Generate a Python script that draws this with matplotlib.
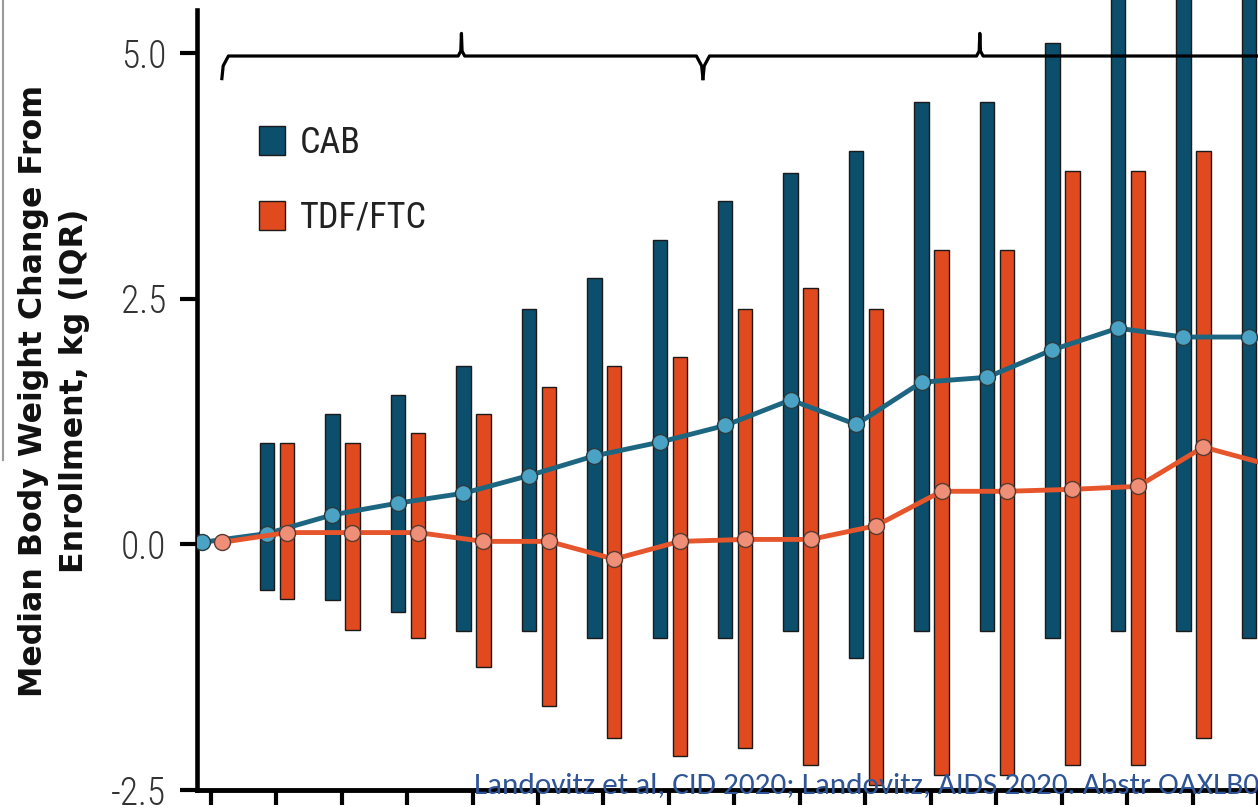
import numpy as np
import matplotlib
matplotlib.use("Agg")
import matplotlib.pyplot as plt
from matplotlib import font_manager
from matplotlib.patches import Patch
from matplotlib.lines import Line2D

# visit index (week 0 .. ) ; last visit partly cut off at right edge
visits = np.arange(17)

# CAB arm: median and IQR (kg)
cab_med = [0.02, 0.11, 0.30, 0.42, 0.52, 0.70, 0.90, 1.04, 1.21, 1.47, 1.22,
           1.65, 1.70, 1.98, 2.20, 2.11, 2.11]
cab_q1 = [np.nan, -0.46, -0.57, -0.69, -0.88, -0.88, -0.95, -0.95, -0.95, -0.88,
          -1.16, -0.88, -0.88, -0.95, -0.88, -0.88, -0.95]
cab_q3 = [np.nan, 1.03, 1.33, 1.52, 1.82, 2.40, 2.71, 3.10, 3.49, 3.78, 4.00,
          4.50, 4.50, 5.10, 5.90, 5.90, 5.90]

# TDF/FTC arm
tdf_med = [0.02, 0.12, 0.12, 0.12, 0.03, 0.03, -0.15, 0.03, 0.05, 0.05, 0.19,
           0.54, 0.54, 0.56, 0.59, 0.99, 0.81]
tdf_q1 = [np.nan, -0.56, -0.87, -0.95, -1.25, -1.65, -1.97, -2.15, -2.07, -2.25,
          -2.45, -2.35, -2.35, -2.25, -2.25, -1.97, -1.97]
tdf_q3 = [np.nan, 1.03, 1.03, 1.13, 1.33, 1.60, 1.82, 1.91, 2.40, 2.61, 2.40,
          3.00, 3.00, 3.80, 3.80, 4.00, 4.68]

labels = ["CAB", "TDF/FTC"]
yticks = [-2.5, 0.0, 2.5, 5.0]
ytick_labels = ["-2.5", "0.0", "2.5", "5.0"]
ylabel = "Median Body Weight Change From\nEnrollment, kg (IQR)"
source = "Landovitz et al, CID 2020; Landovitz, AIDS 2020. Abstr OAXLB0102"

# study step brackets along the top (start, tip, end)
brace_starts = [0.17, 7.52]
brace_tips = [3.83, 11.75]
brace_ends = [7.52, 16.5]

names = {f.name for f in font_manager.fontManager.ttflist}
narrow = "DejaVu Sans"
for cand in ["Liberation Sans Narrow", "Roboto Condensed", "Open Sans Condensed", "Roboto"]:
    if cand in names:
        narrow = cand
        break
srcfont = "Carlito" if "Carlito" in names else "Lato"

cab_bar = "#0b4f6c"
tdf_bar = "#e04a1e"
cab_line = "#1d6682"
tdf_line = "#e6552b"
cab_pt = "#4aa3c4"
tdf_pt = "#f08f78"

W, H = 1258, 811
fig = plt.figure(figsize=(W / 100, H / 100), dpi=100)
ax = fig.add_axes([197 / W, 21 / H, 1 - 197 / W, 1 - 21 / H])
ax.set_xlim(-0.21, 15.84)
ax.set_ylim(-2.5, 5.54)

x = visits.astype(float)
cab_x = x - 0.14
tdf_x = x + 0.165
cab_q1a, cab_q3a = np.array(cab_q1), np.array(cab_q3)
tdf_q1a, tdf_q3a = np.array(tdf_q1), np.array(tdf_q3)

ax.bar(cab_x, cab_q3a - cab_q1a, bottom=cab_q1a, width=0.22, color=cab_bar,
       edgecolor="#1a1a1a", linewidth=1, zorder=2)
ax.bar(tdf_x, tdf_q3a - tdf_q1a, bottom=tdf_q1a, width=0.22, color=tdf_bar,
       edgecolor="#1a1a1a", linewidth=1, zorder=2)

ax.plot(cab_x, cab_med, color=cab_line, lw=3.5, zorder=3, marker="o", ms=11.5,
        mfc=cab_pt, mec="#2a3a40", mew=1)
ax.plot(tdf_x, tdf_med, color=tdf_line, lw=3.5, zorder=3, marker="o", ms=11.5,
        mfc=tdf_pt, mec="#5a3a30", mew=1)

# brackets
yb, yd, yu = 4.97, 4.74, 5.20
for s, t, e in zip(brace_starts, brace_tips, brace_ends):
    bx = [s, s + 0.02, s + 0.1, t - 0.05, t - 0.01, t, t + 0.01, t + 0.05, e - 0.1, e - 0.02, e]
    by = [yd, yb - 0.1, yb, yb, yb + 0.05, yu, yb + 0.05, yb, yb, yb - 0.1, yd]
    ax.plot(bx, by, color="black", lw=2.3, zorder=5, clip_on=False,
            solid_joinstyle="round")

for side in ["top", "right"]:
    ax.spines[side].set_visible(False)
ax.spines["left"].set_bounds(-2.5, 5.44)
ax.spines["left"].set_linewidth(3.3)
ax.spines["bottom"].set_linewidth(3.5)
ax.spines["bottom"].set_zorder(4)

ax.set_yticks(yticks)
ax.set_yticklabels(ytick_labels, fontfamily=narrow, fontweight="light",
                   fontsize=27, color="#333333")
ax.tick_params(axis="y", length=12, width=3, pad=10)
ax.set_xticks(visits)
ax.set_xticklabels([])
ax.tick_params(axis="x", length=11, width=3)

fig.text(54 / W, (H - 391) / H, ylabel, rotation=90, ha="center", va="center",
         multialignment="center", fontsize=22.8, fontweight="bold",
         family="DejaVu Sans", color="#111111", linespacing=1.4)

handles = [Patch(facecolor=cab_bar, edgecolor="#1a1a1a", lw=1),
           Patch(facecolor=tdf_bar, edgecolor="#1a1a1a", lw=1)]
leg = ax.legend(handles, labels, loc="upper left", bbox_to_anchor=(0.058, 0.842),
                frameon=False, borderpad=0, borderaxespad=0, handlelength=0.72,
                handleheight=0.86, handletextpad=0.42, labelspacing=1.08,
                prop={"family": narrow, "size": 26})
for t in leg.get_texts():
    t.set_color("#222222")

fig.text(474 / W, (H - 793) / H, source, fontsize=22.5, family=srcfont,
         color="#2f5597", ha="left", va="baseline", zorder=10)

# grey frame edge at top-left of the slide crop
fig.add_artist(Line2D([3 / W, 3 / W], [1, (H - 460) / H], color="#9a9a9a", lw=1.5))

fig.savefig("out.png", dpi=100)
